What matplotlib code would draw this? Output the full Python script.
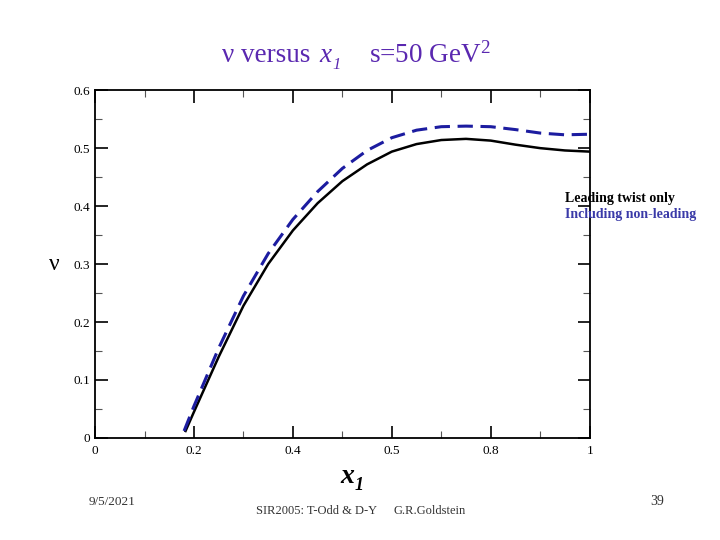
import matplotlib
matplotlib.use("Agg")
import matplotlib.pyplot as plt
from matplotlib.ticker import MultipleLocator

# data
x_lead = [0.183, 0.2, 0.25, 0.3, 0.35, 0.4, 0.45, 0.5, 0.55, 0.6, 0.65, 0.7, 0.75, 0.8, 0.85, 0.9, 0.95, 1.0]
nu_lead = [0.012, 0.045, 0.140, 0.228, 0.300, 0.358, 0.405, 0.443, 0.472, 0.494, 0.507, 0.514, 0.516, 0.513, 0.506, 0.500, 0.496, 0.494]
x_full = [0.18, 0.2, 0.25, 0.3, 0.35, 0.4, 0.45, 0.5, 0.55, 0.6, 0.65, 0.7, 0.75, 0.8, 0.85, 0.9, 0.95, 1.0]
nu_full = [0.012, 0.055, 0.155, 0.245, 0.318, 0.377, 0.425, 0.465, 0.496, 0.518, 0.531, 0.537, 0.538, 0.537, 0.532, 0.526, 0.523, 0.524]
xticks = [0, 0.2, 0.4, 0.6, 0.8, 1]
xtick_labels = ["0", "0.2", "0.4", "0.5", "0.8", "1"]
yticks = [0, 0.1, 0.2, 0.3, 0.4, 0.5, 0.6]
ytick_labels = ["0", "0.1", "0.2", "0.3", "0.4", "0.5", "0.6"]

plt.rcParams['font.family'] = ['Liberation Serif', 'DejaVu Serif']
plt.rcParams['mathtext.fontset'] = 'custom'
plt.rcParams['mathtext.rm'] = 'Liberation Serif'
plt.rcParams['mathtext.it'] = 'Liberation Serif:italic'
plt.rcParams['mathtext.bf'] = 'Liberation Serif:bold'

fig = plt.figure(figsize=(7.2, 5.4), dpi=100)
ax = fig.add_axes([0.132, 0.189, 0.687, 0.644])

ax.plot(x_lead, nu_lead, '-', color='black', lw=1.8)
ax.plot(x_full, nu_full, '--', color='#1c1ca0', lw=2.2, dashes=(5, 2.5))

ax.set_xlim(0, 1)
ax.set_ylim(0, 0.6)
ax.set_xticks(xticks)
ax.set_xticklabels(xtick_labels)
ax.set_yticks(yticks)
ax.set_yticklabels(ytick_labels)
ax.xaxis.set_minor_locator(MultipleLocator(0.1))
ax.yaxis.set_minor_locator(MultipleLocator(0.05))
ax.tick_params(which='both', direction='in', top=True, right=True, labelsize=9.5)
ax.tick_params(axis='x', pad=5)
ax.tick_params(which='major', length=9, width=1.2)
ax.tick_params(which='minor', length=5, width=0.8, color='#555555')
for s in ax.spines.values():
    s.set_linewidth(1.3)

# x axis label: bold italic x with italic subscript 1
fig.text(0.483, 0.118, 'x', fontsize=20, fontstyle='italic', fontweight='bold',
         ha='center', va='center')
fig.text(0.499, 0.100, '1', fontsize=13, fontstyle='italic', fontweight='bold',
         ha='center', va='center')
fig.text(0.075, 0.51, 'ν', fontsize=17, ha='center', va='center')

# title built from pieces so the subscript can be italic
fig.text(0.308, 0.897, 'ν versus ', fontsize=19.5, color='#5a28b0', ha='left', va='center')
fig.text(0.443, 0.897, 'x', fontsize=19.5, fontstyle='italic', color='#5a28b0', ha='left', va='center')
fig.text(0.462, 0.880, '1', fontsize=12, fontstyle='italic', color='#5a28b0', ha='left', va='center')
fig.text(0.513, 0.897, r's=50 GeV$^2$', fontsize=19.5, color='#5a28b0', ha='left', va='center')

fig.text(0.785, 0.633, 'Leading twist only', fontsize=10, fontweight='bold', color='black', va='center')
fig.text(0.785, 0.603, 'Including non-leading', fontsize=10, fontweight='bold', color='#3a3aa8', va='center')

fig.text(0.123, 0.065, '9/5/2021', fontsize=9.5, color='#333333', ha='left')
fig.text(0.356, 0.048, 'SIR2005: T-Odd & D-Y', fontsize=9, color='#333333', ha='left')
fig.text(0.547, 0.048, 'G.R.Goldstein', fontsize=9, color='#333333', ha='left')
fig.text(0.903, 0.065, '39', fontsize=10, color='#333333', ha='left')

fig.savefig('out.png', dpi=100)
